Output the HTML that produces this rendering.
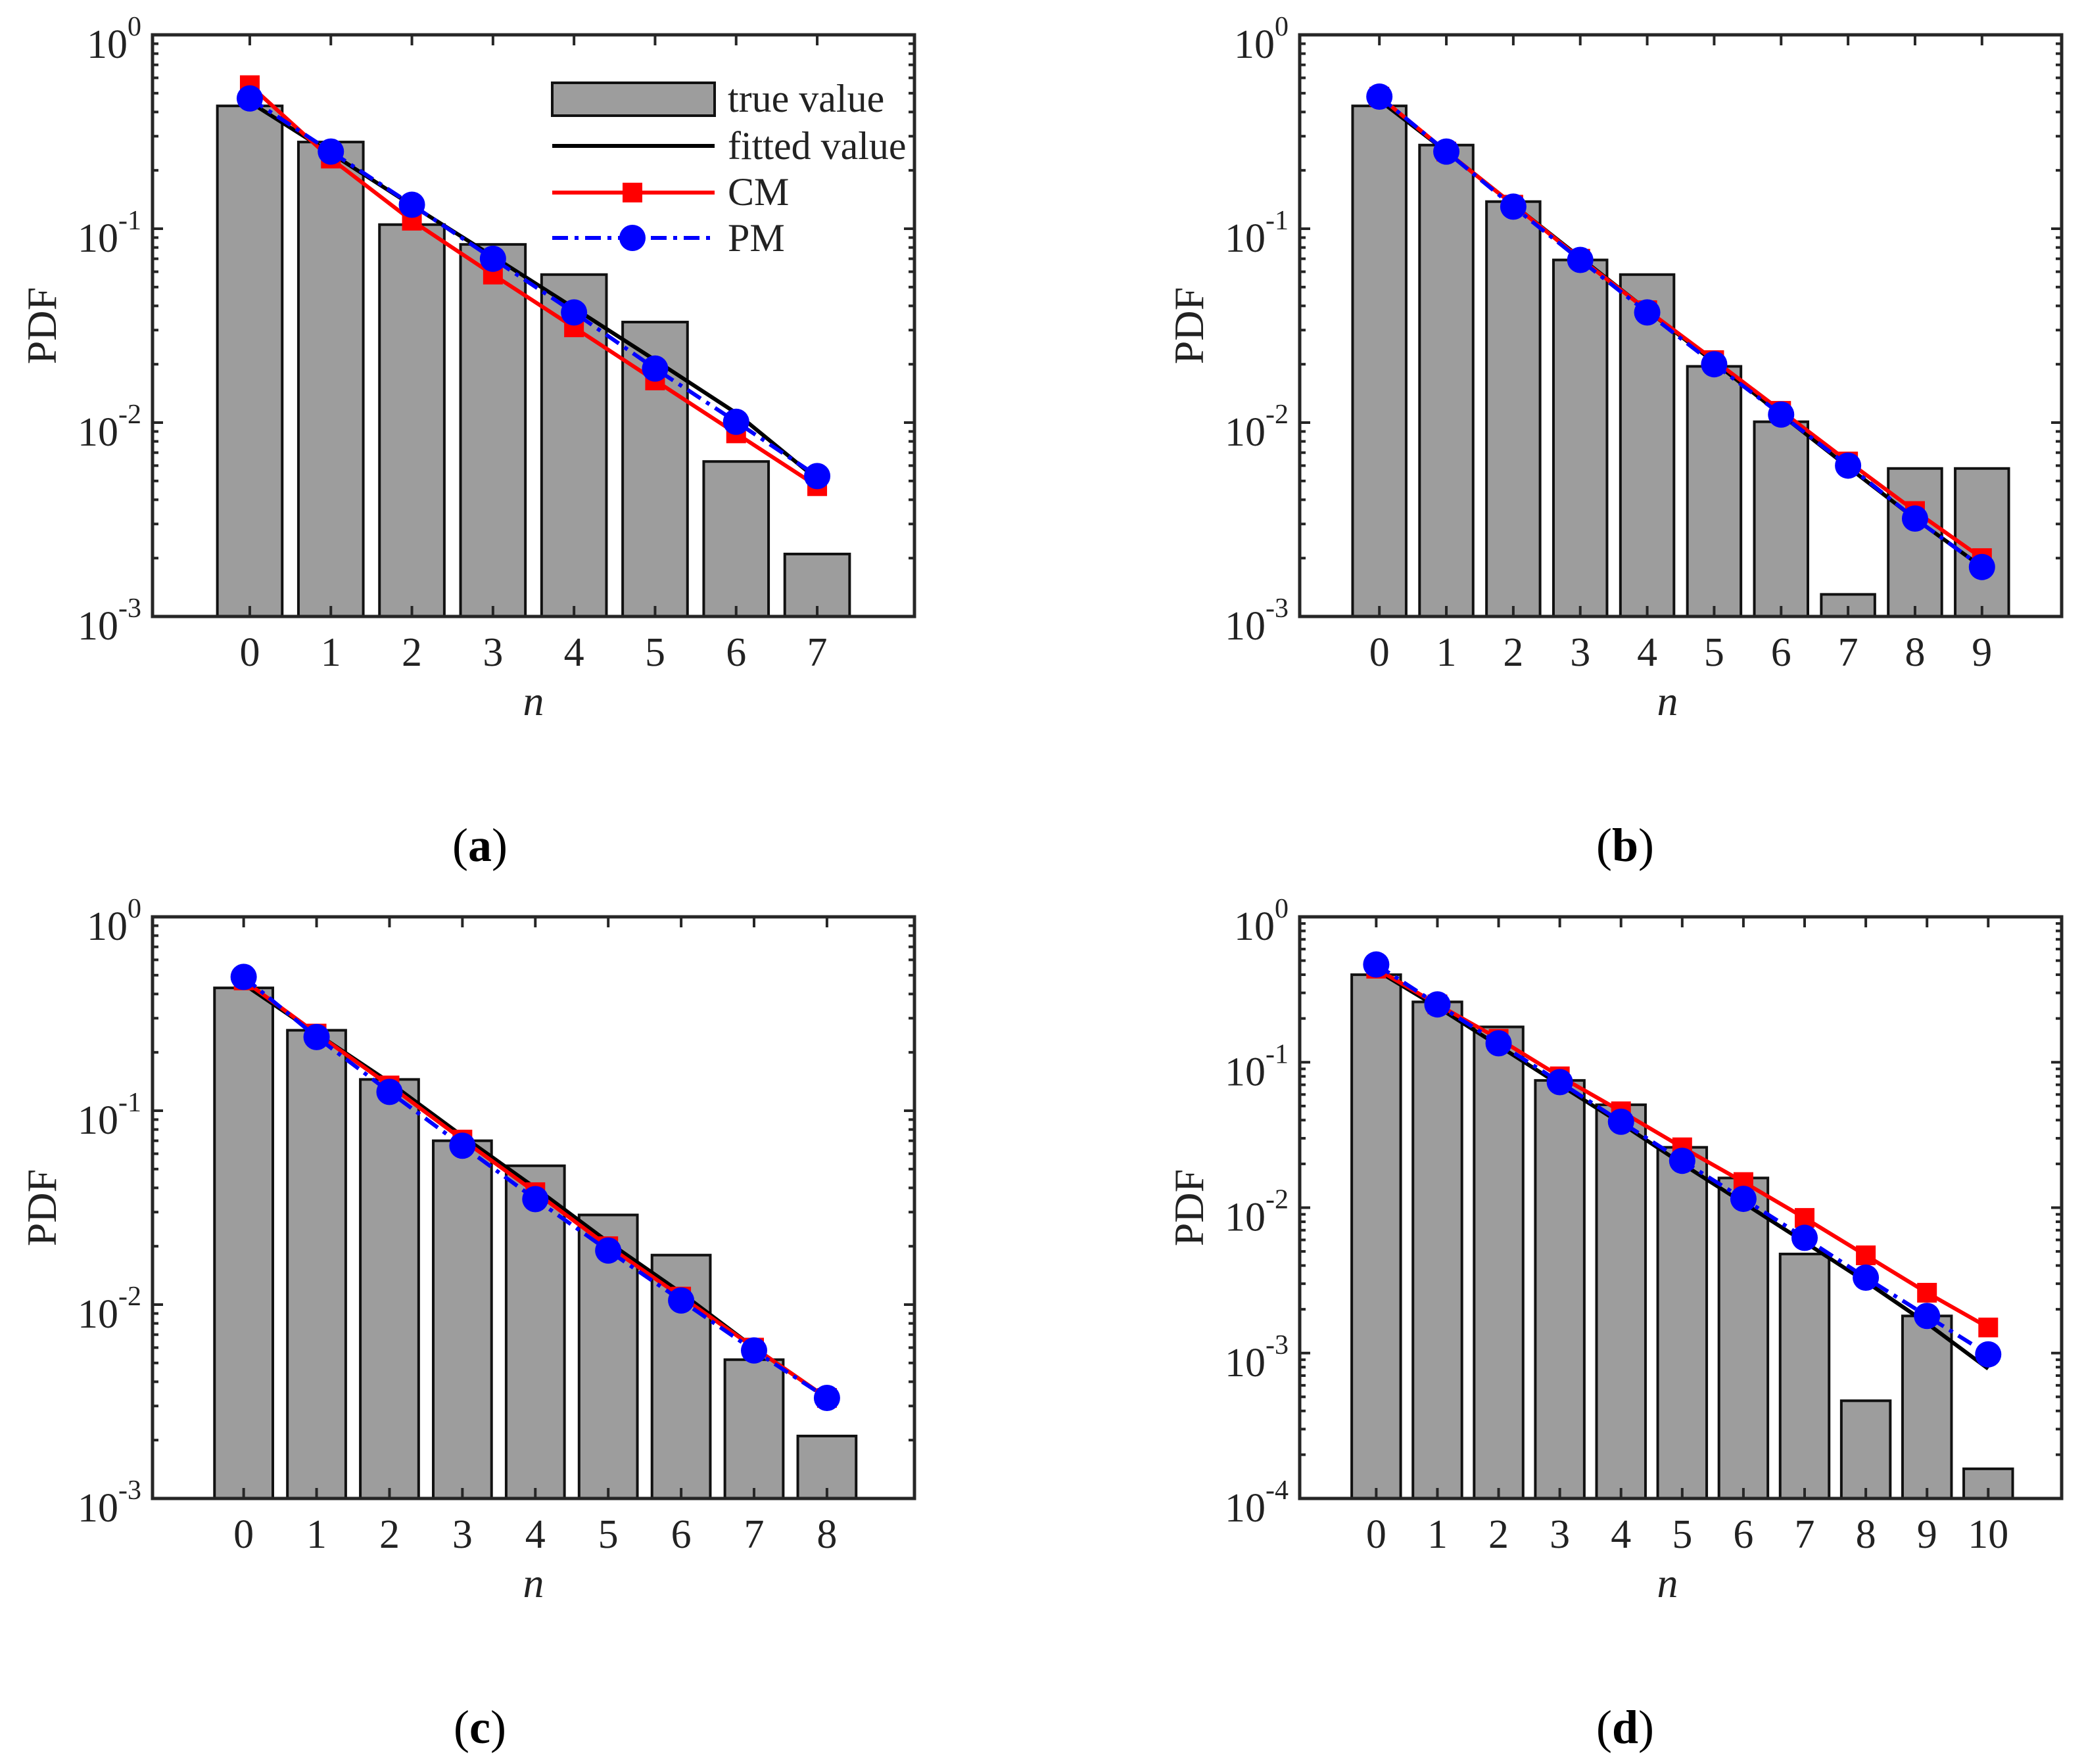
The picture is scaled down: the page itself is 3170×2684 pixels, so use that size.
<!DOCTYPE html>
<html><head><meta charset="utf-8">
<style>
html,body{margin:0;padding:0;background:#fff;}
svg{display:block;font-family:"Liberation Serif","DejaVu Serif",serif;}
</style></head>
<body>
<svg id="fig" width="3170" height="2684" viewBox="0 0 3170 2684" xmlns="http://www.w3.org/2000/svg"></svg>
<script>
// ---- data ----
const catsA = [0,1,2,3,4,5,6,7];
const trueA = [0.43,0.28,0.105,0.083,0.058,0.033,0.0063,0.0021];
const fitA  = [0.45,0.245,0.132,0.072,0.039,0.021,0.0112,0.0051];
const cmA   = [0.55,0.23,0.11,0.058,0.031,0.0165,0.0088,0.0047];
const pmA   = [0.47,0.25,0.133,0.07,0.037,0.019,0.0101,0.0053];

const catsB = [0,1,2,3,4,5,6,7,8,9];
const trueB = [0.43,0.27,0.138,0.069,0.058,0.0195,0.0101,0.0013,0.0058,0.0058];
const fitB  = [0.46,0.25,0.133,0.071,0.038,0.0205,0.011,0.0059,0.0032,0.0018];
const cmB   = [0.48,0.25,0.133,0.07,0.038,0.021,0.0115,0.0063,0.0035,0.002];
const pmB   = [0.48,0.25,0.13,0.069,0.037,0.02,0.011,0.006,0.0032,0.0018];

const catsC = [0,1,2,3,4,5,6,7,8];
const trueC = [0.43,0.26,0.145,0.07,0.052,0.029,0.018,0.0052,0.0021];
const fitC  = [0.45,0.25,0.14,0.074,0.04,0.021,0.0115,0.006,0.0033];
const cmC   = [0.47,0.25,0.135,0.071,0.038,0.02,0.011,0.006,0.0033];
const pmC   = [0.49,0.24,0.125,0.066,0.035,0.019,0.0105,0.0058,0.0033];

const catsD = [0,1,2,3,4,5,6,7,8,9,10];
const trueD = [0.40,0.26,0.175,0.075,0.051,0.026,0.016,0.0048,0.00047,0.0018,0.00016];
const fitD  = [0.43,0.24,0.13,0.07,0.038,0.020,0.0108,0.0058,0.0031,0.0016,0.00078];
const cmD   = [0.44,0.25,0.145,0.08,0.046,0.026,0.015,0.0085,0.0047,0.0026,0.0015];
const pmD   = [0.47,0.25,0.135,0.073,0.039,0.021,0.0115,0.0062,0.0033,0.0018,0.00098];

const NS = "http://www.w3.org/2000/svg";
const svg = document.getElementById('fig');
function mk(tag, attrs, parent){
  const e = document.createElementNS(NS, tag);
  for (const k in attrs) e.setAttribute(k, attrs[k]);
  (parent||svg).appendChild(e);
  return e;
}

function panel(cfg){
  const g = mk('g', {});
  
  
  const L=cfg.L, R=cfg.L+1159, T=cfg.T, B=cfg.T+885;
  const ymin=cfg.ymin;
  const xs = v => L + (v - cfg.xlo) / (cfg.xhi - cfg.xlo) * (R - L);
  const ys = v => B - (Math.log10(v) - ymin) / (0 - ymin) * (B - T);

  cfg.cats.forEach((c,i)=>{
    const x0 = xs(c-0.4), x1 = xs(c+0.4), y = ys(cfg.tru[i]);
    const r = mk('rect', {x:x0, y:y, width:x1-x0, height:B-y, fill:'#9d9d9d', stroke:'#111', 'stroke-width':4}, g);
    
    
  });

  const pts = arr => cfg.cats.map((c,i)=>xs(c)+','+ys(arr[i])).join(' ');
  const fl = mk('polyline', {points:pts(cfg.fit), fill:'none', stroke:'#000', 'stroke-width':6}, g);
  
  
  const cl = mk('polyline', {points:pts(cfg.cm), fill:'none', stroke:'#ff0000', 'stroke-width':6}, g);
  
  
  cfg.cats.forEach((c,i)=>{
    const s = mk('rect', {x:xs(c)-15, y:ys(cfg.cm[i])-15, width:30, height:30, fill:'#ff0000'}, g);
    
    
  });
  const pl = mk('polyline', {points:pts(cfg.pm), fill:'none', stroke:'#0000ff', 'stroke-width':6, 'stroke-dasharray':'24 10 6 10'}, g);
  
  
  cfg.cats.forEach((c,i)=>{
    const p = mk('circle', {cx:xs(c), cy:ys(cfg.pm[i]), r:20, fill:'#0000ff'}, g);
    
    
  });

  const tk = mk('g', {stroke:'#262626', 'stroke-width':4}, g);
  
  
  for (let e=ymin; e<=0; e++){
    for (let m=1; m<=9; m++){
      if (e===0 && m>1) break;
      const y = ys(m*Math.pow(10,e));
      const len = m===1 ? 16 : 9;
      mk('line',{x1:L,y1:y,x2:L+len,y2:y},tk);
      mk('line',{x1:R,y1:y,x2:R-len,y2:y},tk);
    }
    const lab = mk('text', {x:L-17, y:ys(Math.pow(10,e))+35, 'text-anchor':'end', 'font-size':62, fill:'#222'}, g);
    
    
    const t1 = mk('tspan', {}, lab); t1.textContent = '10';
    const t2 = mk('tspan', {'font-size':42, dy:-34}, lab); t2.textContent = String(e);
  }
  cfg.cats.forEach(c=>{
    const x = xs(c);
    mk('line',{x1:x,y1:B,x2:x,y2:B-16},tk);
    mk('line',{x1:x,y1:T,x2:x,y2:T+16},tk);
    const t = mk('text', {x:x, y:B+75, 'text-anchor':'middle', 'font-size':62, fill:'#222'}, g);
    
    
    t.textContent = String(c);
  });
  const f = mk('rect', {x:L, y:T, width:R-L, height:B-T, fill:'none', stroke:'#262626', 'stroke-width':5}, g);
  
  
  const xt = mk('text', {x:(L+R)/2 + (cfg.xtOff||0), y:B+150, 'text-anchor':'middle', 'font-size':64, 'font-style':'italic', fill:'#222'}, g);
  
  
  xt.textContent = 'n';
  const yt = mk('text', {x:0, y:0, 'text-anchor':'middle', 'font-size':64, fill:'#222', transform:'translate('+(L-147)+','+((T+B)/2)+') rotate(-90)'}, g);
  
  
  yt.textContent = 'PDF';
  const cap = mk('text', {x:cfg.capX, y:B+372, 'text-anchor':'middle', 'font-size':72, fill:'#000'}, g);
  
  
  const c1 = mk('tspan', {}, cap); c1.textContent='(';
  const c2 = mk('tspan', {'font-weight':'bold'}, cap); c2.textContent=cfg.id;
  const c3 = mk('tspan', {}, cap); c3.textContent=')';
}

panel({id:'a', L:232, T:53, xlo:-1.2, xhi:8.2, ymin:-3, cats:catsA, tru:trueA, fit:fitA, cm:cmA, pm:pmA, capX:730, xtOff:0});
panel({id:'b', L:1977, T:53, xlo:-1.19, xhi:10.19, ymin:-3, cats:catsB, tru:trueB, fit:fitB, cm:cmB, pm:pmB, capX:2472, xtOff:-20});
panel({id:'c', L:232, T:1395, xlo:-1.25, xhi:9.2, ymin:-3, cats:catsC, tru:trueC, fit:fitC, cm:cmC, pm:pmC, capX:730, xtOff:0});
panel({id:'d', L:1977, T:1395, xlo:-1.25, xhi:11.2, ymin:-4, cats:catsD, tru:trueD, fit:fitD, cm:cmD, pm:pmD, capX:2472, xtOff:-20});

const lg = mk('g', {});


const lb = mk('rect', {x:840, y:126, width:247, height:50, fill:'#9d9d9d', stroke:'#111', 'stroke-width':4}, lg);


const l1 = mk('line', {x1:840, y1:222, x2:1087, y2:222, stroke:'#000', 'stroke-width':6}, lg);


const l2 = mk('line', {x1:840, y1:293, x2:1087, y2:293, stroke:'#ff0000', 'stroke-width':6}, lg);


const l2m = mk('rect', {x:947, y:278, width:30, height:30, fill:'#ff0000'}, lg);


const l3 = mk('line', {x1:840, y1:362, x2:1087, y2:362, stroke:'#0000ff', 'stroke-width':6, 'stroke-dasharray':'24 10 6 10'}, lg);


const l3m = mk('circle', {cx:962, cy:362, r:20, fill:'#0000ff'}, lg);


const labels = [['true value',170],['fitted value',242],['CM',312],['PM',382]];
labels.forEach(([t,y])=>{
  const e = mk('text', {x:1107, y:y, 'font-size':60, fill:'#222'}, lg);
  
  
  e.textContent = t;
});
</script>
</body></html>
